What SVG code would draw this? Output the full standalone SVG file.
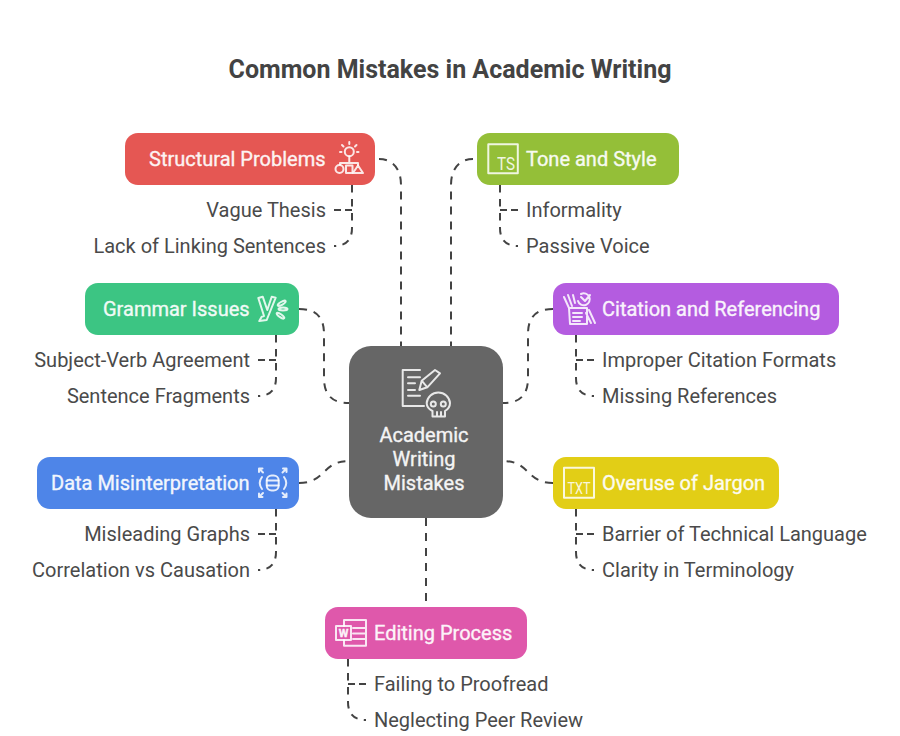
<svg xmlns="http://www.w3.org/2000/svg" width="900" height="736" viewBox="0 0 900 736">
<style>
text{font-family:Roboto,"Liberation Sans",sans-serif}
.t{font-size:25px;font-weight:700;fill:#434343;text-anchor:middle}
.l{font-size:20px;fill:#fff;stroke:#fff;stroke-width:.35;opacity:.93}
.s{font-size:20px;fill:#4a4a4a}
.e{text-anchor:end}
.c{font-size:20px;fill:#fff;stroke:#fff;stroke-width:.35;opacity:.93;text-anchor:middle}
.d{fill:none;stroke:#434343;stroke-width:2;stroke-dasharray:8 7}
.q{fill:none;stroke:#434343;stroke-width:2;stroke-dasharray:7.500 6.500}
.b{fill:none;stroke:#434343;stroke-width:2;stroke-dasharray:7 4}
.i{fill:none;stroke:#fff;stroke-width:2;stroke-linejoin:round;stroke-linecap:round;opacity:.85}
.g{stroke-width:0;opacity:.85}
</style>
<rect width="900" height="736" fill="#fff"/>
<text class="t" x="450" y="78">Common Mistakes in Academic Writing</text>
<g id="connectors">
<path class="d" d="M379 159C392 159 401 168 401 185V346"/>
<path class="d" d="M473 159C460 159 451 168 451 185V346"/>
<path class="d" d="M299 309C316 309 324 317 324 334V378C324 395 332 403 349 403"/>
<path class="d" d="M553 309C536 309 528 317 528 334V378C528 395 520 403 503 403"/>
<path class="d" d="M299 483C326 483 322 461 349 461"/>
<path class="d" d="M553 483C526 483 530 461 503 461"/>
<path class="d" d="M426 518V607"/>
<path class="q" d="M352 185V228C352 240 346 246 334 246"/>
<path class="b" d="M334 210H352"/>
<path class="q" d="M500 185V228C500 240 506 246 518 246"/>
<path class="b" d="M518 210H500"/>
<path class="q" d="M276 335V378C276 390 270 396 258 396"/>
<path class="b" d="M258 360H276"/>
<path class="q" d="M576 335V378C576 390 582 396 594 396"/>
<path class="b" d="M594 360H576"/>
<path class="q" d="M276 509V552C276 564 270 570 258 570"/>
<path class="b" d="M258 534H276"/>
<path class="q" d="M576 509V552C576 564 582 570 594 570"/>
<path class="b" d="M594 534H576"/>
<path class="q" d="M348 659V702C348 714 354 720 366 720"/>
<path class="b" d="M366 684H348"/>
</g>
<g id="center">
<rect x="349" y="346" width="154" height="172" rx="22" fill="#666"/>
<path class="i" d="M420 370H402.700V406H424M408 377.300H420M408 383.300H415M408 390H415M408 395.700H420"/>
<path class="i" d="M419.300 390L421.700 380.700L435 370L440 373.300L427.300 387.300ZM421.700 380.700L427.300 387.300"/>
<path class="i" d="M432.500 416.500V411C428.500 409 426.700 406 426.700 403A11.700 11.500 0 0 1 450 403C450 406 448.500 409 445 411V416.500ZM437 412V416M441 412V416"/>
<circle class="i" cx="433.300" cy="404" r="2.500"/>
<circle class="i" cx="443.300" cy="404" r="2.500"/>
<text class="c" x="424" y="442">Academic</text>
<text class="c" x="424" y="466">Writing</text>
<text class="c" x="424" y="490">Mistakes</text>
</g>
<g id="structural">
<rect x="125" y="133" width="250" height="52" rx="13" fill="#E55753"/>
<text class="l" x="149" y="166">Structural Problems</text>
<circle class="i" cx="349.300" cy="151.700" r="4.500"/>
<path class="i" d="M349.300 142V144M342 145L343.500 146.500M356.500 145L355 146.500M340 152H341.500M357 152H358.500M349.300 156.500V163M340 164.500V163H358V165"/>
<circle class="i" cx="339.500" cy="169" r="4"/>
<rect class="i" x="346" y="165.500" width="6.500" height="7.500"/>
<path class="i" d="M358 165.500L363 173H353Z"/>
</g>
<g id="tone">
<rect x="477" y="133" width="202" height="52" rx="13" fill="#94BF38"/>
<rect class="i" x="488.300" y="144.300" width="29.500" height="29"/>
<text class="l g" x="497" y="170" style="font-size:18px" textLength="18" lengthAdjust="spacingAndGlyphs">TS</text>
<text class="l" x="526" y="166">Tone and Style</text>
</g>
<g id="grammar">
<rect x="85" y="283" width="214" height="52" rx="13" fill="#3CC583"/>
<text class="l" x="103" y="316">Grammar Issues</text>
<path class="i" d="M258.300 298L262.700 296.700L267.300 310L271.700 296.700L275.700 297.700L266.700 320L259.300 321L261.700 316.700L264 316Z"/>
<ellipse class="i" cx="281.700" cy="303.300" rx="4.500" ry="1.500" transform="rotate(-30 281.700 303.300)"/>
<ellipse class="i" cx="283" cy="309" rx="4.500" ry="1.500"/>
<ellipse class="i" cx="280.500" cy="315.700" rx="4.500" ry="1.500" transform="rotate(35 280.500 315.700)"/>
</g>
<g id="citation">
<rect x="553" y="283" width="286" height="52" rx="13" fill="#B45CE0"/>
<path class="i" d="M569 308H587V324H570ZM573 313H582M573 317H582M573 321H580M564 297L569 308M568 295L572 306M573 295L575 303M589 310L595 323M586 313L591 323"/>
<path class="i" d="M581 297L585 301L590 295M578 301A6 6 0 1 0 581 294"/>
<text class="l" x="602" y="316">Citation and Referencing</text>
</g>
<g id="data">
<rect x="37" y="457" width="262" height="52" rx="13" fill="#4E85E8"/>
<text class="l" x="51" y="490">Data Misinterpretation</text>
<rect class="i" x="266.700" y="475.500" width="12" height="15" rx="5"/>
<path class="i" d="M267 480.500H278.500M267 485.500H278.500"/>
<path class="i" d="M262 477C259 481 259 485 262 489M284 477C287 481 287 485 284 489"/>
<path class="i" d="M259 472V468.500H262.500M259 468.500L263 472.500M286.500 472V468.500H283M286.500 468.500L282.500 472.500M259 493.500V497H262.500M259 497L263 493M286.500 493.500V497H283M286.500 497L282.500 493"/>
</g>
<g id="jargon">
<rect x="553" y="457" width="226" height="52" rx="13" fill="#E2CE16"/>
<rect class="i" x="564" y="467.700" width="30" height="30"/>
<text class="l g" x="567.500" y="493.500" style="font-size:16px" textLength="23" lengthAdjust="spacingAndGlyphs">TXT</text>
<text class="l" x="602" y="490">Overuse of Jargon</text>
</g>
<g id="editing">
<rect x="325" y="607" width="202" height="52" rx="13" fill="#DF58AB"/>
<rect class="i" x="336" y="626" width="15" height="14"/>
<path class="i" d="M344 626V620H366V645.700H344V640M353 628H366M353 633.500H366M353 639H366"/>
<text class="l" x="343.500" y="637" text-anchor="middle" style="font-size:11px;font-weight:700">W</text>
<text class="l" x="374" y="640">Editing Process</text>
</g>
<g id="sub-items">
<text class="s e" x="326" y="217">Vague Thesis</text>
<text class="s e" x="326" y="253">Lack of Linking Sentences</text>
<text class="s" x="526" y="217">Informality</text>
<text class="s" x="526" y="253">Passive Voice</text>
<text class="s e" x="250" y="367">Subject-Verb Agreement</text>
<text class="s e" x="250" y="403">Sentence Fragments</text>
<text class="s" x="602" y="367">Improper Citation Formats</text>
<text class="s" x="602" y="403">Missing References</text>
<text class="s e" x="250" y="541">Misleading Graphs</text>
<text class="s e" x="250" y="577">Correlation vs Causation</text>
<text class="s" x="602" y="541">Barrier of Technical Language</text>
<text class="s" x="602" y="577">Clarity in Terminology</text>
<text class="s" x="374" y="691">Failing to Proofread</text>
<text class="s" x="374" y="727">Neglecting Peer Review</text>
</g>
</svg>
